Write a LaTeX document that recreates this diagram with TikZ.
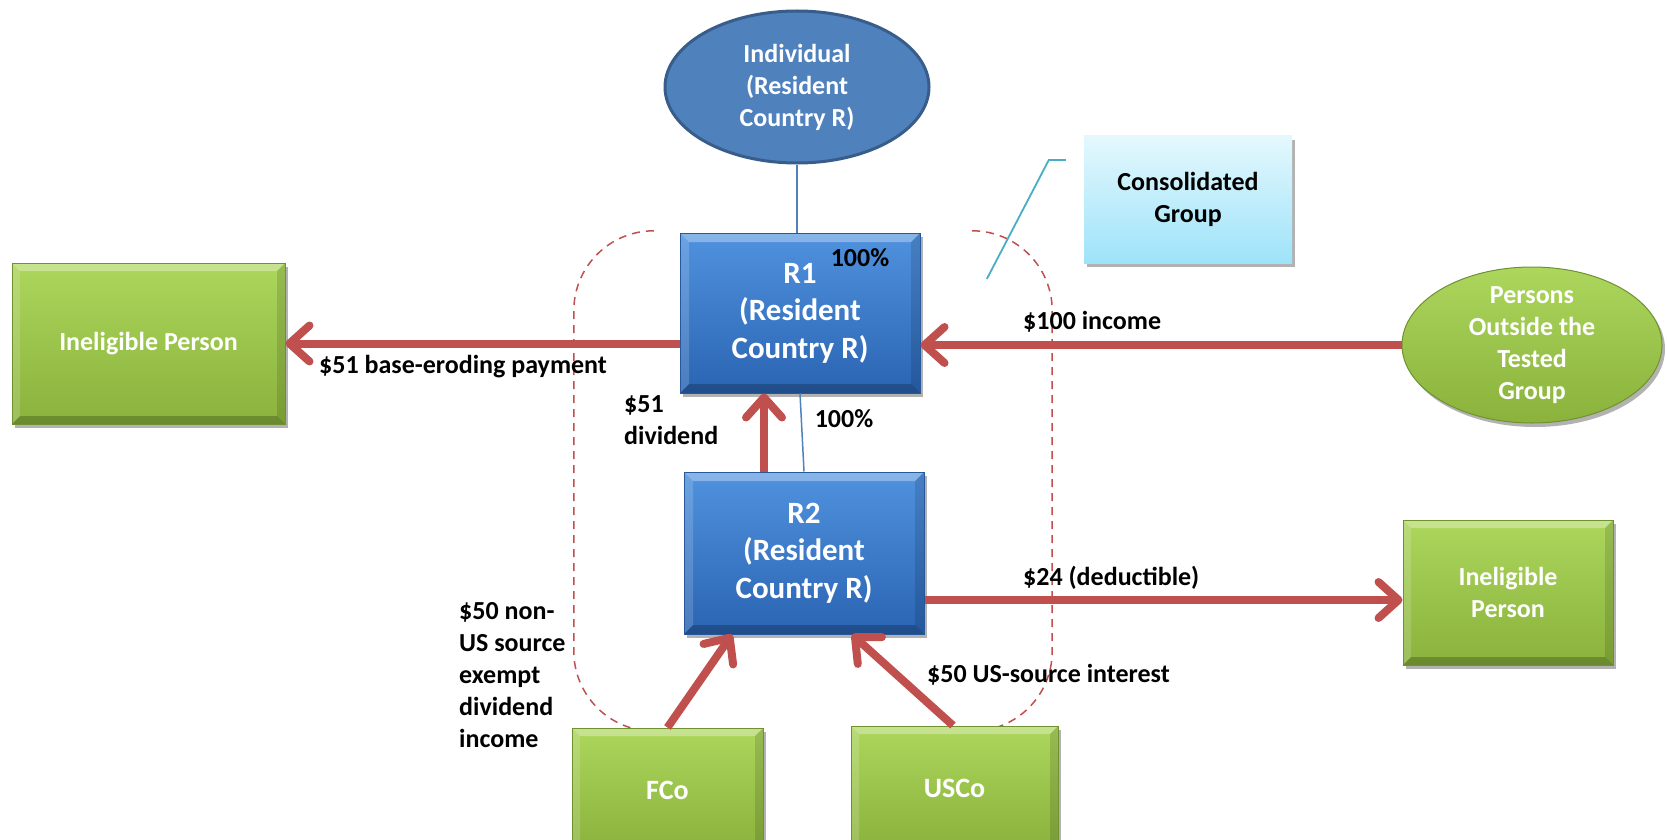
\documentclass[tikz,border=0pt]{standalone}
\usepackage{fontspec}
\setmainfont{Carlito}
\usetikzlibrary{arrows.meta,shapes.geometric,shadows,calc}

\definecolor{bluetop}{RGB}{80,146,222}
\definecolor{bluebot}{RGB}{42,100,178}
\definecolor{blueedge}{RGB}{40,88,156}
\definecolor{greentop}{RGB}{172,214,92}
\definecolor{greenbot}{RGB}{138,178,60}
\definecolor{greenedge}{RGB}{112,145,50}
\definecolor{indfill}{RGB}{79,129,189}
\definecolor{indedge}{RGB}{56,93,138}
\definecolor{constop}{RGB}{228,248,253}
\definecolor{consbot}{RGB}{158,227,249}
\definecolor{flowred}{RGB}{192,80,77}
\definecolor{tieblue}{RGB}{79,129,189}
\definecolor{callcol}{RGB}{75,172,198}

\pgfdeclarelayer{bg}
\pgfsetlayers{bg,main}

% bevelled edges drawn inside a rectangular node
\newcommand\bevelfx[1]{%
  \coordinate (bvA) at (path picture bounding box.north west);
  \coordinate (bvB) at (path picture bounding box.north east);
  \coordinate (bvC) at (path picture bounding box.south east);
  \coordinate (bvD) at (path picture bounding box.south west);
  \fill[white,opacity=.32] (bvA) -- (bvB) -- ([shift={(-#1,-#1)}]bvB) -- ([shift={(#1,-#1)}]bvA) -- cycle;
  \fill[white,opacity=.16] (bvA) -- ([shift={(#1,-#1)}]bvA) -- ([shift={(#1,#1)}]bvD) -- (bvD) -- cycle;
  \fill[black,opacity=.22] (bvD) -- (bvC) -- ([shift={(-#1,#1)}]bvC) -- ([shift={(#1,#1)}]bvD) -- cycle;
  \fill[black,opacity=.12] (bvC) -- (bvB) -- ([shift={(-#1,-#1)}]bvB) -- ([shift={(-#1,#1)}]bvC) -- cycle;
}

\begin{document}
\begin{tikzpicture}[x=1pt,y=-1pt,
  boxfont/.style={font=\fontsize{26}{32}\selectfont\bfseries},
  bigfont/.style={font=\fontsize{31}{37.5}\selectfont\bfseries},
  shade/.style={drop shadow={shadow xshift=3pt,shadow yshift=-4pt,opacity=.3,fill=black}},
  bluebox/.style={rectangle, draw=blueedge, line width=1pt, top color=bluetop,
    bottom color=bluebot, inner sep=0pt, text=white, align=center, bigfont,
    shade, path picture={\bevelfx{9pt}}},
  greenbox/.style={rectangle, draw=greenedge, line width=1pt, top color=greentop,
    bottom color=greenbot, inner sep=0pt, text=white, align=center, boxfont,
    shade, path picture={\bevelfx{8pt}}},
  consbox/.style={rectangle, top color=constop, bottom color=consbot, inner sep=0pt,
    text=black, align=center, boxfont, shade},
  lbl/.style={inner sep=0pt, text=black, align=left, boxfont},
  flow/.style={draw=flowred, line width=8pt,
    -{Straight Barb[length=20pt,width=36pt,round]}},
  tie/.style={draw=tieblue, line width=1.5pt},
  callline/.style={draw=callcol, line width=1.8pt},
  grpline/.style={draw=flowred, line width=1.5pt, dash pattern=on 8pt off 6pt,
    rounded corners=80pt}
]
\useasboundingbox (0,0) rectangle (1667,840);

% entities
\node[ellipse, draw=indedge, line width=3pt, fill=indfill, inner sep=0pt,
      minimum width=264pt, minimum height=152pt, text=white, align=center, boxfont]
      (ind) at (797,87) {Individual\\(Resident\\Country R)};

\node[bluebox, minimum width=240pt, minimum height=160pt] (r1) at (800,313)
      {R1\\(Resident\\Country R)};
\node[bluebox, minimum width=240pt, minimum height=162pt] (r2) at (804,553)
      {R2\\(Resident\\Country R)};

\node[greenbox, minimum width=273pt, minimum height=161pt] (lip) at (148.5,343.5)
      {Ineligible Person};
\node[greenbox, minimum width=210pt, minimum height=145pt] (rip) at (1508,592.5)
      {Ineligible\\Person};
\node[greenbox, minimum width=191pt, minimum height=124pt,
      font=\fontsize{28}{34}\selectfont\bfseries] (fco) at (667.5,790) {FCo};
\node[greenbox, minimum width=207pt, minimum height=124pt,
      font=\fontsize{28}{34}\selectfont\bfseries] (usco) at (954.5,788) {USCo};

\node[ellipse, draw=greenedge, line width=1pt, top color=greentop, bottom color=greenbot,
      inner sep=0pt, minimum width=260pt, minimum height=156pt, shade,
      label={[text=white, align=center, boxfont, inner sep=0pt]center:Persons\\Outside the\\Tested\\Group}]
      (out) at (1532,345) {};

\node[consbox, minimum width=208pt, minimum height=127pt] (cons) at (1188,199.5)
      {Consolidated\\Group};

% consolidated group: a pair of rounded brackets
\node[inner sep=0pt, minimum width=478pt, minimum height=500pt] (grp) at (813,481) {};
\begin{pgfonlayer}{bg}
\draw[grpline] ([xshift=80pt]grp.north west) -- (grp.north west)
      -- (grp.south west) -- ([xshift=80pt]grp.south west);
\draw[grpline] ([xshift=-80pt]grp.north east) -- (grp.north east)
      -- (grp.south east) -- ([xshift=-80pt]grp.south east);
\end{pgfonlayer}

% ownership lines
\draw[tie] (ind.south) -- (ind.south |- r1.north);
\draw[tie] (r1.south) -- (r2.north);

% callout leader of the group note
\coordinate (calla) at ([xshift=-18pt,yshift=39.5pt]cons.west);
\coordinate (callb) at ([xshift=-35pt,yshift=39.5pt]cons.west);
\coordinate (callc) at ([xshift=-97pt,yshift=-79.5pt]cons.west);
\draw[callline] (calla) -- (callb) -- (callc);

% payment flows
\draw[flow] (r1.west |- lip.east) -- (lip.east);
\draw[flow] (out.west) -- (out.west -| r1.east);
\draw[flow] ([xshift=-40pt]r2.north) -- ([xshift=-40pt]r2.north |- r1.south);
\draw[flow] ([yshift=-47pt]r2.east) -- ([yshift=-47pt]r2.east -| rip.west);
\draw[flow] (fco.north) -- ([xshift=-72pt]r2.south);
\draw[flow] ([xshift=-1.5pt]usco.north) -- ([xshift=48pt]r2.south);

% labels
\node[lbl] (pct1) at (860,258) {100\%};
\node[lbl] (pct2) at (844,419) {100\%};
\node[lbl, anchor=west] (ldiv) at (624,420) {\$51\\dividend};
\node[lbl, anchor=west] (lpay) at (319,367) {\$51 base-eroding payment};
\node[lbl, anchor=west] (linc) at (1023,322) {\$100 income};
\node[lbl, anchor=west] (lded) at (1023,578) {\$24 (deductible)};
\node[lbl, anchor=west] (lint) at (927,675) {\$50 US-source interest};
\node[lbl, anchor=west] (lfco) at (459,675)
      {\$50 non-\\US source\\exempt\\dividend\\income};
\end{tikzpicture}
\end{document}
